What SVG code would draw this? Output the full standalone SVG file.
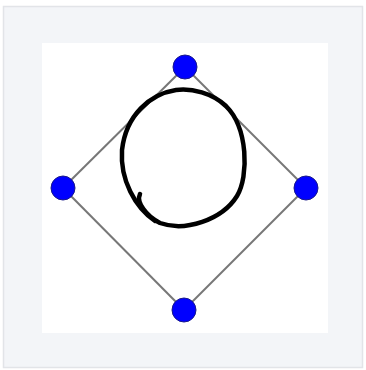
<svg xmlns="http://www.w3.org/2000/svg" width="366" height="370" viewBox="0 0 366 370">
<style>
.edge{stroke:#777;stroke-width:2;fill:none}
.node{fill:#0000ff;stroke:#1a1a8a;stroke-width:1}
</style>
<rect x="0" y="0" width="366" height="370" fill="#ffffff"/>
<rect x="3.5" y="6.5" width="359" height="361" fill="#f3f5f8" stroke="#e2e4e8" stroke-width="1.5"/>
<rect x="42" y="43" width="286" height="290" fill="#ffffff"/>
<g id="connectors">
<line class="edge" x1="185" y1="67" x2="63" y2="188"/>
<line class="edge" x1="185" y1="67" x2="306" y2="188"/>
<line class="edge" x1="63" y1="188" x2="184" y2="310"/>
<line class="edge" x1="306" y1="188" x2="184" y2="310"/>
</g>
<g id="node-top"><circle class="node" cx="185" cy="67" r="12"/></g>
<g id="node-left"><circle class="node" cx="63" cy="188" r="12"/></g>
<g id="node-right"><circle class="node" cx="306" cy="188" r="12"/></g>
<g id="node-bottom"><circle class="node" cx="184" cy="310" r="12"/></g>
<g id="scribble">
<path d="M 140,194 C 136,202 146,216 160,223 C 185,232 222,220 237,196 C 249,176 248,128 226,106 C 212,93 192,88 176,90 C 150,94 126,115 122,150 C 120,180 135,207 155,221" fill="none" stroke="#000" stroke-width="4.5" stroke-linecap="round"/>
</g>
</svg>
